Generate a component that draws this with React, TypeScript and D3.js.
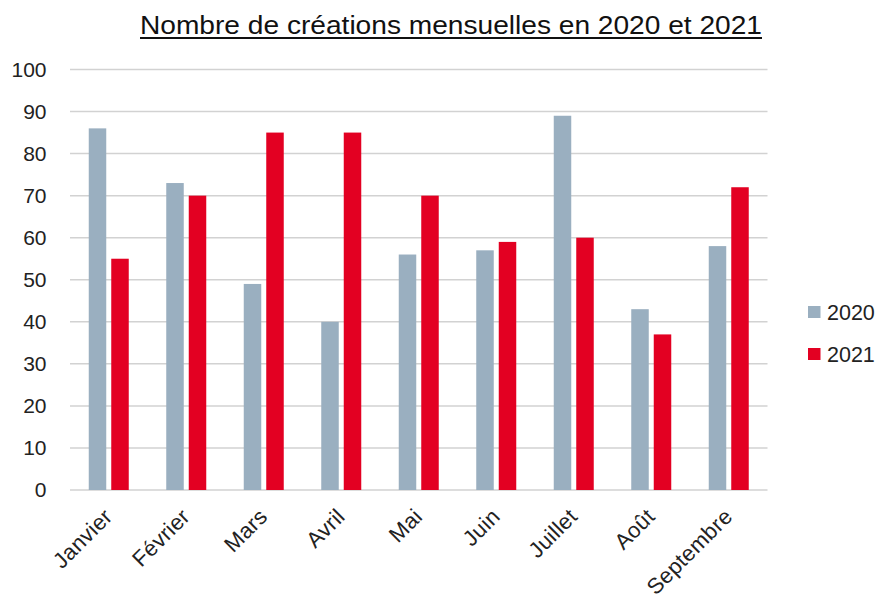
import React from "react";
import * as d3 from "d3";

const months = ["Janvier", "Février", "Mars", "Avril", "Mai", "Juin", "Juillet", "Août", "Septembre"];
const series = ["2020", "2021"];
const values2020 = [86, 73, 49, 40, 56, 57, 89, 43, 58];
const values2021 = [55, 70, 85, 85, 70, 59, 60, 37, 72];
const yTicks = [0, 10, 20, 30, 40, 50, 60, 70, 80, 90, 100];
const colors = ["#9AAFC0", "#E30022"];
const title = "Nombre de créations mensuelles en 2020 et 2021";

export default function App() {
  const W = 882, H = 601;
  const left = 70, right = 767.5, top = 69.5, bottom = 490;
  const x = d3.scaleBand<string>().domain(months).range([left, right]).padding(0);
  const y = d3.scaleLinear().domain([0, 100]).range([bottom, top]);
  const barW = 17.5, gap = 5;
  const font = "'Liberation Sans', Arial, Helvetica, sans-serif";
  const data = [values2020, values2021];

  return (
    <svg width={W} height={H} style={{ position: "absolute", left: 0, top: 0 }} fontFamily={font}>
      <rect width={W} height={H} fill="#fff" />
      <text x={140} y={33.5} fontSize={25} fill="#111" textLength={622} lengthAdjust="spacingAndGlyphs">
        {title}
      </text>
      <line x1={140} x2={762} y1={38} y2={38} stroke="#111" strokeWidth={2} />
      {yTicks.map((t) => (
        <g key={t}>
          <line x1={left} x2={right} y1={y(t)} y2={y(t)} stroke="#d2d2d2" strokeWidth={1.5} />
          <text x={46.5} y={y(t)} dy="0.35em" textAnchor="end" fontSize={21} fill="#222">
            {t}
          </text>
        </g>
      ))}
      {months.map((m, i) => {
        const c = (x(m) as number) + x.bandwidth() / 2;
        return (
          <g key={m}>
            {data.map((vals, s) => {
              const bx = s === 0 ? c - gap / 2 - barW : c + gap / 2;
              return (
                <rect
                  key={s}
                  x={bx}
                  y={y(vals[i])}
                  width={barW}
                  height={y(0) - y(vals[i])}
                  fill={colors[s]}
                />
              );
            })}
            <text
              transform={`translate(${c + 5},${518}) rotate(-45)`}
              textAnchor="end"
              fontSize={22}
              letterSpacing={0.3}
              fill="#222"
            >
              {m}
            </text>
          </g>
        );
      })}
      {series.map((s, i) => (
        <g key={s} transform={`translate(808,${306 + i * 42})`}>
          <rect width={12.5} height={12} fill={colors[i]} />
          <text x={19} y={6} dy="0.37em" fontSize={21.5} fill="#222">
            {s}
          </text>
        </g>
      ))}
    </svg>
  );
}
